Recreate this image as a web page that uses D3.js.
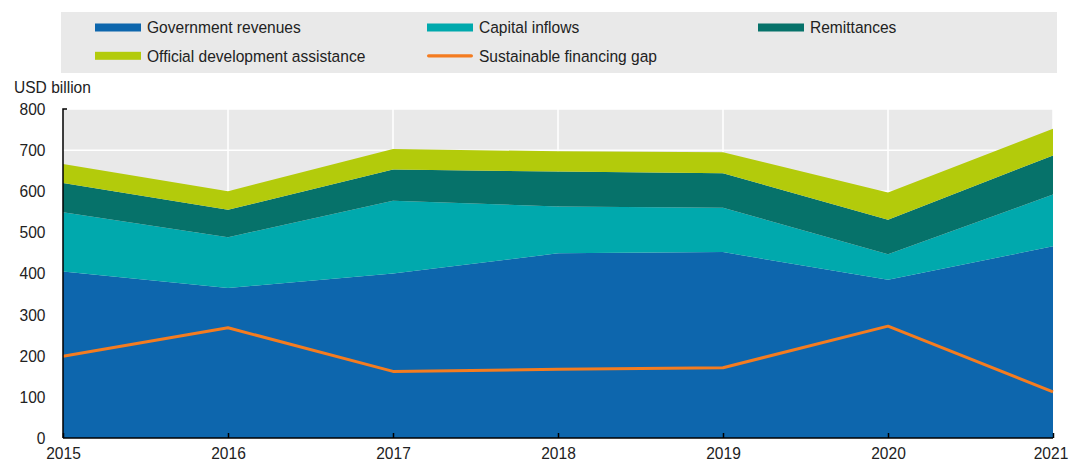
<!DOCTYPE html>
<html><head><meta charset="utf-8">
<script src="https://cdn.jsdelivr.net/npm/d3@7"></script>
<style>
html,body{margin:0;padding:0;background:#fff;}
svg{display:block;font-family:"Liberation Sans",Arial,sans-serif;}
</style></head>
<body><svg id="c" width="1069" height="464"></svg>
<script>
const years = [2015, 2016, 2017, 2018, 2019, 2020, 2021];
const govRevenues = [405, 365, 400, 449, 452, 385, 466];
const capitalInflows = [144, 123, 177, 114, 108, 62, 126];
const remittances = [71, 67, 76, 85, 84, 84, 95];
const oda = [46, 45, 50, 49, 51, 66, 65];
const financingGap = [199, 268, 162, 167, 171, 272, 112];
const yTicks = [0, 100, 200, 300, 400, 500, 600, 700, 800];
const seriesNames = ["Government revenues", "Capital inflows", "Remittances", "Official development assistance"];
const seriesColors = ["#0d66ad", "#00a9ad", "#06726a", "#b3cb0b"];
const gapName = "Sustainable financing gap";
const gapColor = "#f47c20";

const SX = 0.915; // emulate a narrow font
const FS = 17;
const svg = d3.select("#c");
const m = {l: 63, r: 1053, t: 109, b: 438};
const x = d3.scaleLinear().domain([2015, 2021]).range([m.l, m.r]);
const y = d3.scaleLinear().domain([0, 800]).range([m.b, m.t]);

svg.append("rect").attr("x", m.l).attr("y", m.t).attr("width", m.r - m.l).attr("height", m.b - m.t).attr("fill", "#e9e9e9");
svg.append("g").selectAll("line").data(yTicks.slice(1)).join("line")
  .attr("x1", m.l).attr("x2", m.r).attr("y1", d => y(d)).attr("y2", d => y(d))
  .attr("stroke", "#fff").attr("stroke-width", 1.5);
svg.append("g").selectAll("line").data(years.slice(1)).join("line")
  .attr("x1", d => x(d)).attr("x2", d => x(d)).attr("y1", m.t).attr("y2", m.b)
  .attr("stroke", "#fff").attr("stroke-width", 1.5);

const table = years.map((yr, i) => ({year: yr, s0: govRevenues[i], s1: capitalInflows[i], s2: remittances[i], s3: oda[i]}));
const layers = d3.stack().keys(["s0", "s1", "s2", "s3"])(table);
const area = d3.area().x(d => x(d.data.year)).y0(d => y(d[0])).y1(d => y(d[1]));
svg.append("g").selectAll("path").data(layers).join("path")
  .attr("d", area).attr("fill", (d, i) => seriesColors[i]);

const line = d3.line().x((d, i) => x(years[i])).y(d => y(d));
svg.append("path").datum(financingGap).attr("d", line).attr("fill", "none")
  .attr("stroke", gapColor).attr("stroke-width", 3).attr("stroke-linejoin", "round");

const xAxis = d3.axisBottom(x).tickValues(years).tickFormat(d3.format("d")).tickSize(-5).tickPadding(10);
const gx = svg.append("g").attr("transform", `translate(0,${m.b})`).call(xAxis);
gx.select(".domain").attr("stroke", "#000").attr("stroke-width", 1.5).attr("d", `M${m.l},0H${m.r}`);
gx.selectAll(".tick line").attr("stroke", "#000").attr("stroke-width", 1.5);
gx.selectAll(".tick text").attr("font-size", FS).attr("fill", "#222").attr("font-family", null)
  .attr("dy", "0.67em")
  .attr("transform", d => `translate(${d === 2021 ? -2.5 : 0},0) scale(${SX},1)`);

const yAxis = d3.axisLeft(y).tickValues(yTicks).tickSize(0).tickPadding(0);
const gy = svg.append("g").attr("transform", `translate(${m.l},0)`).call(yAxis);
gy.select(".domain").attr("stroke", "#000").attr("stroke-width", 1.5).attr("d", `M4,${m.t}H0V${m.b}`);
gy.selectAll(".tick text").attr("font-size", FS).attr("fill", "#222").attr("font-family", null)
  .attr("x", 0).attr("transform", `translate(-17.5,0) scale(${SX},1)`);

svg.append("text").attr("transform", `translate(14,93) scale(${SX},1)`).attr("font-size", FS).attr("fill", "#222").text("USD billion");

svg.append("rect").attr("x", 61).attr("y", 12).attr("width", 996).attr("height", 61).attr("fill", "#e9e9e9");
const legendItems = [
  {name: seriesNames[0], color: seriesColors[0], type: "area", col: 0, row: 0},
  {name: seriesNames[1], color: seriesColors[1], type: "area", col: 1, row: 0},
  {name: seriesNames[2], color: seriesColors[2], type: "area", col: 2, row: 0},
  {name: seriesNames[3], color: seriesColors[3], type: "area", col: 0, row: 1},
  {name: gapName, color: gapColor, type: "line", col: 1, row: 1}
];
const colX = [95, 427, 758];
const rowY = [27.5, 55.8];
const lg = svg.append("g").selectAll("g").data(legendItems).join("g")
  .attr("transform", d => `translate(${colX[d.col]},${rowY[d.row]})`);
lg.append("rect").attr("x", 0).attr("width", 46)
  .attr("y", d => d.type === "area" ? -4 : -1.6)
  .attr("height", d => d.type === "area" ? 8 : 3.2)
  .attr("rx", d => d.type === "area" ? 0 : 1.6)
  .attr("fill", d => d.color);
lg.append("text").attr("transform", `translate(52,0) scale(${SX},1)`).attr("dy", "0.35em")
  .attr("font-size", FS).attr("fill", "#222").text(d => d.name);
</script></body></html>
